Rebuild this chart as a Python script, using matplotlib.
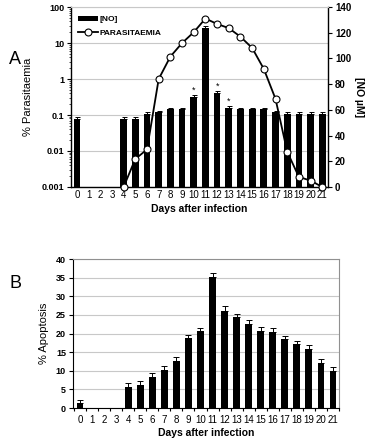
import numpy as np
import matplotlib
matplotlib.use('Agg')
import matplotlib.pyplot as plt
from matplotlib.ticker import FixedLocator, FuncFormatter, NullFormatter

plt.rcParams['font.family'] = ['Liberation Sans', 'DejaVu Sans']

# days after infection
days = list(range(22))
day_labels = [str(d) for d in days]

# panel A: nitric oxide (right axis) and parasitaemia (left, log)
no_um = [53, np.nan, np.nan, np.nan, 53, 53, 57, 58, 60.5, 60.5, 70, 123.5,
         73, 61.5, 60.5, 60.5, 60.5, 58, 57, 57, 57, 57]
no_err = [1.2, 0, 0, 0, 1.2, 1.2, 1.2, 1.2, 1.2, 1.2, 1.5, 2.0,
          1.5, 1.2, 1.2, 1.2, 1.2, 1.2, 1.2, 1.2, 1.2, 1.2]
parasitaemia = [np.nan, np.nan, np.nan, np.nan, 0.001, 0.006, 0.011, 1.0, 4.2, 10,
                20, 48, 34, 26, 15, 7.3, 1.9, 0.28, 0.0095, 0.0019, 0.0015, 0.001]
star_days = [10, 11, 12, 13]

# panel B: apoptosis
apoptosis = [1.3, 0, 0, 0, 5.7, 6.2, 8.2, 10.2, 12.6, 18.8, 20.6, 35.3,
             26.2, 24.5, 22.6, 20.8, 20.5, 18.5, 17.2, 15.8, 12.2, 10.0]
apoptosis_err = [0.8, 0, 0, 0, 0.9, 1.0, 1.1, 1.0, 1.0, 0.9, 0.9, 1.1,
                 1.1, 0.8, 1.0, 0.9, 0.9, 0.9, 0.9, 1.0, 1.0, 1.1]

fig = plt.figure(figsize=(3.72, 4.43), dpi=100)
grid_col = '#c8c8c8'

# ---- panel A ----
ax = fig.add_axes([0.191, 0.578, 0.691, 0.406])
ax.set_yscale('log')
ax.set_ylim(0.001, 100)
ax.set_xlim(-0.5, 21.5)
ax.grid(axis='y', which='major', color=grid_col, lw=0.8)
ax.set_axisbelow(True)
ax.yaxis.set_major_formatter(FuncFormatter(lambda v, p: '%g' % v))
ax.yaxis.set_minor_formatter(NullFormatter())
ax.tick_params(axis='y', which='major', labelsize=6.5, length=3, width=0.8, pad=2)
ax.tick_params(axis='y', which='minor', length=1.5, width=0.5)
for lab in ax.get_yticklabels():
    lab.set_fontweight('bold')
ax.set_xticks(days)
ax.set_xticklabels(day_labels)
ax.tick_params(axis='x', labelsize=7, length=0, pad=2)
ax.set_ylabel('% Parasitaemia', fontsize=8, labelpad=6)
ax.set_xlabel('Days after infection', fontsize=7.5, fontweight='bold', labelpad=3)
for s in ax.spines.values():
    s.set_visible(False)

ax_no = ax.twinx()
ax_no.bar(days, no_um, width=0.58, color='black', label='[NO]', zorder=2)
ax_no.errorbar(days, no_um, yerr=[np.zeros(len(no_err)), no_err], fmt='none',
               ecolor='black', elinewidth=0.7, capsize=1.8, capthick=0.7, zorder=3)
for d in star_days:
    ax_no.text(d, no_um[d] + no_err[d] + 0.3, '*', ha='center', va='bottom', fontsize=6.5)
ax_no.set_ylim(0, 140)
ax_no.set_yticks(range(0, 141, 20))
ax_no.tick_params(axis='y', labelsize=7, length=3, width=0.8, pad=2)
for lab in ax_no.get_yticklabels():
    lab.set_fontweight('bold')
ax_no.set_ylabel('[NO \u00b5M]', fontsize=7.5, fontweight='bold', rotation=270, labelpad=9)
ax_no.spines['top'].set_color(grid_col)
ax_no.spines['left'].set_linewidth(1.0)
ax_no.spines['right'].set_linewidth(1.0)
ax_no.spines['bottom'].set_linewidth(1.0)

ax_p = ax.twinx()
ax_p.set_yscale('log')
ax_p.set_ylim(0.001, 100)
ax_p.plot(days, parasitaemia, '-o', color='black', lw=1.3, markersize=5,
          markerfacecolor='white', markeredgecolor='black', markeredgewidth=0.8,
          label='PARASITAEMIA', clip_on=False, zorder=4)
ax_p.set_yticks([])
ax_p.yaxis.set_minor_locator(FixedLocator([]))
for s in ax_p.spines.values():
    s.set_visible(False)

h1, l1 = ax_no.get_legend_handles_labels()
h2, l2 = ax_p.get_legend_handles_labels()
leg = ax_p.legend(h1 + h2, l1 + l2, loc='upper left', frameon=False,
                  prop={'size': 6, 'weight': 'bold'}, handlelength=2.4,
                  handletextpad=0.2, borderaxespad=0.3, labelspacing=0.7,
                  bbox_to_anchor=(0.005, 0.985))

# ---- panel B ----
axb = fig.add_axes([0.196, 0.079, 0.715, 0.336])
axb.bar(days, apoptosis, width=0.55, color='black', zorder=2)
shown = [d for d in days if apoptosis[d] > 0]
axb.errorbar(shown, [apoptosis[d] for d in shown],
             yerr=[[0] * len(shown), [apoptosis_err[d] for d in shown]],
             fmt='none', ecolor='black', elinewidth=0.7, capsize=2, capthick=0.7, zorder=3)
axb.set_xlim(-0.6, 21.45)
axb.set_ylim(0, 40)
axb.set_yticks(range(0, 41, 5))
axb.grid(axis='y', color=grid_col, lw=0.8)
axb.set_axisbelow(True)
axb.set_xticks(days)
axb.set_xticklabels(day_labels)
axb.set_xticks([d + 0.5 for d in range(-1, 22)], minor=True)
axb.tick_params(axis='x', which='major', labelsize=7, length=0, pad=5)
axb.tick_params(axis='x', which='minor', length=2.5, width=0.8)
axb.tick_params(axis='y', labelsize=6.5, length=3, width=0.8, pad=2)
for lab in axb.get_yticklabels():
    lab.set_fontweight('bold')
axb.set_ylabel('% Apoptosis', fontsize=8, labelpad=5)
axb.set_xlabel('Days after infection', fontsize=7.5, fontweight='bold', labelpad=2)
axb.spines['top'].set_color('#909090')
axb.spines['right'].set_color('#909090')

fig.text(0.025, 1 - 60 / 443, 'A', fontsize=13, va='center')
fig.text(0.025, 1 - 283 / 443, 'B', fontsize=13, va='center')

fig.savefig('out.png', dpi=100)
